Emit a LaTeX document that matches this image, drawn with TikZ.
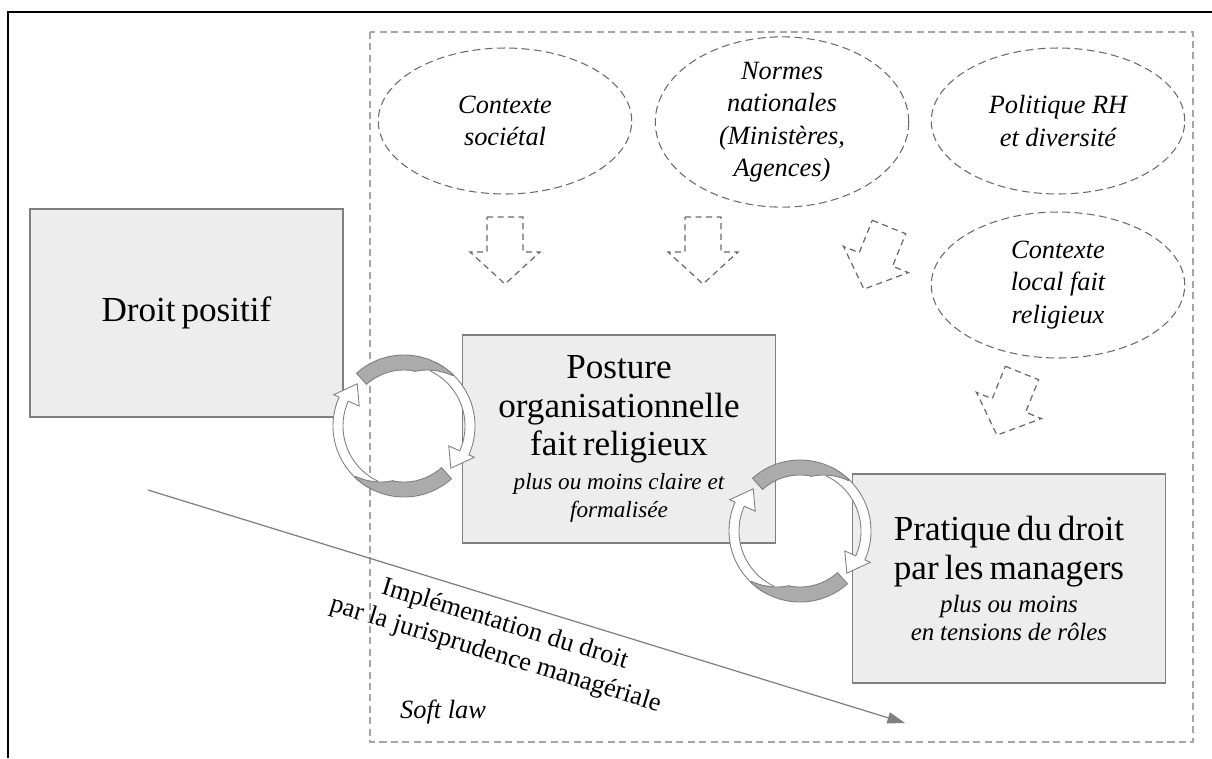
\documentclass[tikz,border=0pt]{standalone}
\usepackage{fontspec}
\setmainfont{Liberation Serif}
\usetikzlibrary{shapes.geometric,arrows.meta}

\definecolor{boxfill}{HTML}{EDEDED}
\definecolor{boxline}{HTML}{7F7F7F}
\definecolor{softgray}{HTML}{A6A6A6}
\definecolor{dashgray}{HTML}{6A6A6A}
\definecolor{bandgray}{HTML}{ABABAB}

\newcommand\boxtitle{\fontsize{20}{22}\selectfont}
\newcommand\boxnote[1]{\par\vspace{3pt}\fontsize{#1}{16}\selectfont\itshape}

\begin{document}
\begin{tikzpicture}[x=0.02cm, y=0.02cm,
  mainbox/.style ={rectangle, draw=boxline, fill=boxfill, line width=0.9pt, minimum width=6.26cm, minimum height=4.17cm, inner sep=0pt, text width=6cm, align=center},
  context/.style ={ellipse, draw=dashgray, dash pattern=on 4.5pt off 2.5pt, line width=0.6pt, minimum width=5.07cm, minimum height=2.92cm, inner sep=0pt, align=center, font=\fontsize{15}{18.5}\selectfont\itshape},
  blockarrow/.style ={draw=dashgray, dash pattern=on 3.5pt off 2.5pt, line width=0.7pt},
  ribbon/.style ={fill=white, draw=boxline, line width=0.5pt},
  band/.style ={fill=bandgray, draw=boxline, line width=0.5pt},
  dasharrow/.pic ={\draw[blockarrow] (-18,0) -- (18,0) -- (18,-35) -- (35,-35) -- (0,-67) -- (-35,-35) -- (-18,-35) -- cycle;},
  looparrows/.pic ={
    \foreach \turn in {0,180}{
      \begin{scope}[rotate=\turn]
        \filldraw[ribbon] plot[domain=64:-24, samples=40] (\x:71) -- (-24:77) -- (-42:63) -- (-24:49) -- (-24:61) -- plot[domain=-24:64, samples=40] (\x:61) -- cycle;
        \filldraw[band] plot[domain=132:46, samples=40] (\x:71) -- plot[domain=46:78, samples=20] (\x:{70-14*(\x-46)/32}) -- plot[domain=78:132, samples=30] (\x:56) -- cycle;
      \end{scope}
    }
  }]
 \useasboundingbox (0,0) rectangle (1212,-758);
 % frame and soft law area
 \draw[line width=1.7pt] (8,-758) -- (8,-12) -- (1212,-12);
 \draw[softgray, line width=1.4pt, dash pattern=on 4pt off 2.5pt] (370,-32) rectangle (1193,-742);

 \node[context] (societal) at (505,-121) {Contexte\\sociétal};
 \node[context] (normes) at (782,-122) {Normes\\nationales\\(Ministères,\\Agences)};
 \node[context] (politique) at (1058,-121) {Politique RH\\et diversité};
 \node[context] (local) at (1058,-285) {Contexte\\local fait\\religieux};

 \pic at (505,-217) {dasharrow};
 \pic at (703,-217) {dasharrow};
 \pic[rotate=-22] at (889,-227) {dasharrow};
 \pic[rotate=-22] at (1022,-373) {dasharrow};

 \node[mainbox] (droit) at (186.5,-313) {\boxtitle Droit positif\par};
 \node[mainbox] (posture) at (619,-439) {\boxtitle Posture\\organisationnelle\\fait religieux\boxnote{13.2} plus ou moins claire et\\formalisée\par};
 \node[mainbox] (pratique) at (1009,-578.5) {\boxtitle Pratique du droit\\par les managers\boxnote{14.2} plus ou moins\\en tensions de rôles\par};

 \pic at (404,-426) {looparrows};
 \pic at (800,-531) {looparrows};

 % implementation by managers
 \coordinate (impstart) at (148,-490);
 \coordinate (impend) at (905,-723);
 \draw[boxline, line width=0.7pt, -{Triangle[length=10pt,width=6.5pt]}] (impstart) -- (impend);
 \node[rotate=-17, align=center, font=\fontsize{15}{18}\selectfont] (implabel) at (500,-640) {Implémentation du droit\\par la jurisprudence managériale};
 \node[font=\fontsize{15}{18}\selectfont\itshape] (softlaw) at (443,-712) {Soft law};
\end{tikzpicture}
\end{document}
